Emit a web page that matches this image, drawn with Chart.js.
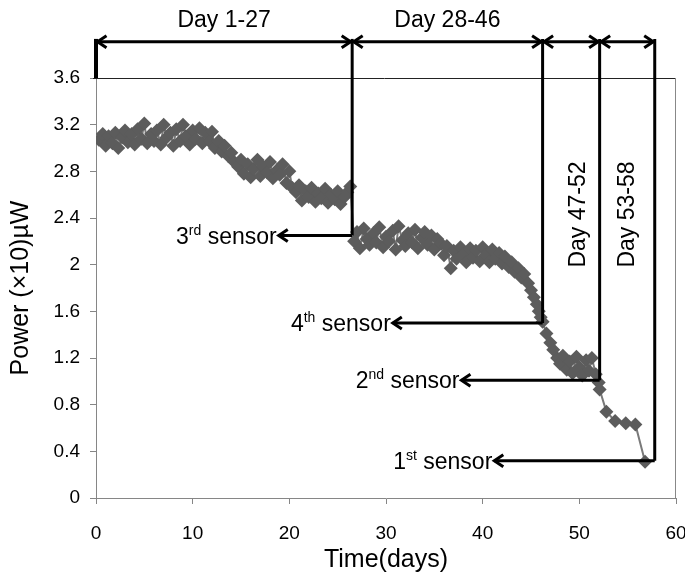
<!DOCTYPE html>
<html>
<head>
<meta charset="utf-8">
<script src="https://cdn.jsdelivr.net/npm/chart.js@4.4.0/dist/chart.umd.min.js"></script>
<style>
html,body{margin:0;padding:0;background:#fff;}
canvas{display:block;}
</style>
</head>
<body>
<canvas id="c" width="685" height="578"></canvas>
<script>
// ---- data ----
const days = [
  0.3,0.7,1.0,1.3,1.7,2.0,2.3,2.7,3.0,3.3,3.7,4.0,4.3,4.7,5.0,5.3,5.7,6.0,6.3,6.7,7.0,7.3,7.7,8.0,
  8.3,8.7,9.0,9.3,9.7,10.0,10.3,10.7,11.0,11.3,11.7,12.0,12.3,12.7,13.0,13.3,13.7,14.0,14.3,14.7,15.0,
  15.3,15.7,16.0,16.3,16.7,17.0,17.3,17.7,18.0,18.3,18.7,19.0,19.3,19.7,20.0,20.3,20.7,21.0,21.3,21.7,
  22.0,22.3,22.7,23.0,23.3,23.7,24.0,24.3,24.7,25.0,25.3,25.7,26.0,26.3,26.7,27.0,27.3,27.7,28.0,28.3,
  28.7,29.0,29.3,29.7,30.0,30.3,30.7,31.0,31.3,31.7,32.0,32.3,32.7,33.0,33.3,33.7,34.0,34.3,34.7,35.0,
  35.3,35.7,36.0,36.3,36.7,37.0,37.3,37.7,38.0,38.3,38.7,39.0,39.3,39.7,40.0,40.3,40.7,41.0,41.3,41.7,
  42.0,42.3,42.7,43.0,43.3,43.7,44.0,44.3,44.7,45.0,45.3,45.6,45.8,46.0,46.2,46.6,47.0,47.3,47.7,48.0,
  48.3,48.7,49.0,49.3,49.7,50.0,50.3,50.7,51.0,51.3,51.7,52.0,52.1,52.8,53.7,54.8,55.8,56.8
];
const power = [
  3.07,3.12,3.02,3.10,3.04,3.13,3.00,3.09,3.15,3.05,3.12,3.03,3.16,3.08,3.21,3.04,3.12,3.06,3.15,3.03,3.20,3.09,3.13,3.02,
  3.16,3.06,3.20,3.10,3.03,3.15,3.08,3.17,3.04,3.13,3.06,3.14,3.00,3.06,2.97,3.02,2.93,2.96,2.88,2.84,2.90,
  2.78,2.86,2.75,2.82,2.90,2.76,2.84,2.79,2.88,2.74,2.81,2.77,2.86,2.70,2.80,2.66,2.62,2.68,2.55,2.63,
  2.58,2.66,2.54,2.61,2.57,2.65,2.53,2.60,2.56,2.63,2.52,2.58,2.62,2.67,2.20,2.28,2.14,2.31,2.22,2.17,
  2.27,2.19,2.32,2.15,2.24,2.20,2.29,2.13,2.33,2.21,2.16,2.27,2.19,2.30,2.14,2.23,2.28,2.17,2.25,2.13,
  2.22,2.18,2.08,2.16,1.97,2.12,2.05,2.15,2.09,2.02,2.14,2.06,2.12,2.03,2.15,2.08,2.02,2.13,2.05,2.10,
  2.01,2.07,1.98,2.02,1.94,1.97,1.89,1.92,1.84,1.78,1.72,1.66,1.60,1.55,1.51,1.41,1.33,1.27,1.20,1.15,
  1.22,1.10,1.17,1.07,1.21,1.12,1.05,1.18,1.09,1.20,1.06,0.99,0.93,0.74,0.66,0.64,0.63,0.31
];
const xTicks = [0,10,20,30,40,50,60];
const yTicks = [0,0.4,0.8,1.2,1.6,2,2.4,2.8,3.2,3.6];

// annotation values (in data units)
const periodBounds = [0, 26.5, 46.2, 52.1, 57.8];
const periodLabels = ['Day 1-27','Day 28-46','Day 47-52','Day 53-58'];
const sensorLevels = [2.25, 1.5, 1.01, 0.32];
const sensorArrowEnds = [18.8, 30.6, 37.7, 41.1];
const sensorNums = ['3','4','2','1'];
const sensorSups = ['rd','th','nd','st'];

const points = days.map((d,i)=>({x:d, y:power[i]}));

const AXIS_FONT = "'Liberation Sans Narrow','Liberation Sans',Arial,sans-serif";
const ANN_FONT = "'Liberation Sans',Arial,sans-serif";

function line(ctx,x1,y1,x2,y2){ctx.beginPath();ctx.moveTo(x1,y1);ctx.lineTo(x2,y2);ctx.stroke();}
function head(ctx,x,y,dir){ // dir: -1 points left, 1 points right
  ctx.beginPath();
  ctx.moveTo(x-dir*9,y-6);ctx.lineTo(x,y);ctx.lineTo(x-dir*9,y+6);
  ctx.stroke();
}

const annot = {
  id:'annot',
  afterDraw(chart){
    const {ctx, chartArea, scales:{x,y}} = chart;
    const X = v=>x.getPixelForValue(v), Y = v=>y.getPixelForValue(v);
    ctx.save();
    // frame (top and right)
    ctx.strokeStyle='#222'; ctx.lineWidth=1;
    line(ctx, chartArea.left-3, Math.round(chartArea.top)+0.5, chartArea.right, Math.round(chartArea.top)+0.5);
    ctx.strokeStyle='#888';
    line(ctx, Math.round(chartArea.right)-0.5, chartArea.top, Math.round(chartArea.right)-0.5, chartArea.bottom);

    ctx.strokeStyle='#000'; ctx.lineWidth=3; ctx.lineJoin='miter';
    const topY = Y(3.91);
    const lineTop = Y(3.935);
    periodBounds.forEach((b,i)=>{
      const bottom = i===0 ? Y(3.6) : Y(sensorLevels[i-1]);
      ctx.lineWidth = i===0 ? 4 : 3;
      line(ctx, X(b), lineTop, X(b), bottom);
    });
    ctx.lineWidth=3;
    for(let i=0;i<periodBounds.length-1;i++){
      const a=X(periodBounds[i])+1.5, b=X(periodBounds[i+1])-1.5;
      line(ctx,a,topY,b,topY);
      head(ctx,a,topY,-1);
      head(ctx,b,topY,1);
    }
    // sensor arrows
    sensorLevels.forEach((lv,i)=>{
      const x0 = X(periodBounds[i+1]), x1 = X(sensorArrowEnds[i]), yy = Y(lv);
      line(ctx,x0,yy,x1+1,yy);
      head(ctx,x1+1,yy,-1);
      // label
      const big = "23px "+ANN_FONT, small = "14px "+ANN_FONT;
      ctx.font = big; const wNum = ctx.measureText(sensorNums[i]).width;
      const wSen = ctx.measureText(' sensor').width;
      ctx.font = small; const wSup = ctx.measureText(sensorSups[i]).width;
      const right = x1 - 1;
      const left = right - (wNum+wSup+wSen);
      const base = yy + 8;
      ctx.fillStyle='#000'; ctx.textBaseline='alphabetic'; ctx.textAlign='left';
      ctx.font = big; ctx.fillText(sensorNums[i], left, base);
      ctx.font = small; ctx.fillText(sensorSups[i], left+wNum, base-9);
      ctx.font = big; ctx.fillText(' sensor', left+wNum+wSup, base);
    });
    // period labels
    ctx.fillStyle='#000'; ctx.font="23px "+ANN_FONT; ctx.textAlign='center'; ctx.textBaseline='middle';
    for(let i=0;i<2;i++){
      const cx = (X(periodBounds[i])+X(periodBounds[i+1]))/2;
      ctx.fillText(periodLabels[i], cx, Y(4.095));
    }
    const rotX = [49.9, 55.0];
    for(let i=2;i<4;i++){
      ctx.save();
      ctx.translate(X(rotX[i-2]), Y(2.43));
      ctx.rotate(-Math.PI/2);
      ctx.fillText(periodLabels[i],0,0);
      ctx.restore();
    }
    ctx.restore();
  }
};

new Chart(document.getElementById('c'), {
  type:'scatter',
  data:{datasets:[{
    data: points,
    showLine:true,
    borderColor:'#7a7a7a',
    borderWidth:2,
    backgroundColor:'#5c5c5c',
    pointStyle:'rectRot',
    pointRadius:7,
    pointBorderWidth:0,
    pointBackgroundColor:'#5c5c5c',
    pointBorderColor:'#5c5c5c',
    tension:0
  }]},
  options:{
    responsive:false,
    devicePixelRatio:1,
    animation:false,
    layout:{padding:{top:78,right:9,left:0,bottom:0}},
    plugins:{legend:{display:false},tooltip:{enabled:false}},
    scales:{
      x:{
        type:'linear', min:0, max:60,
        afterBuildTicks(s){ s.ticks = xTicks.map(v=>({value:v})); },
        afterFit(s){ s.height = 80; s.paddingLeft=0; s.paddingRight=0; },
        grid:{display:true, drawOnChartArea:false, drawTicks:true, tickLength:6, color:'#868686'},
        border:{display:true, color:'#868686', width:1},
        ticks:{padding:18, color:'#000', font:{family:AXIS_FONT, size:19}, maxRotation:0},
        title:{display:true, text:'Time(days)', color:'#000', font:{family:AXIS_FONT, size:25}, padding:{top:0,bottom:3}}
      },
      y:{
        type:'linear', min:0, max:3.6,
        afterBuildTicks(s){ s.ticks = yTicks.map(v=>({value:v})); },
        afterFit(s){ s.width = 96; s.paddingTop=0; s.paddingBottom=0; },
        grid:{display:true, drawOnChartArea:false, drawTicks:true, tickLength:6, color:'#868686'},
        border:{display:true, color:'#868686', width:1},
        ticks:{padding:10, color:'#000', font:{family:AXIS_FONT, size:19},
          callback:(v)=>String(parseFloat(Number(v).toFixed(2)))},
        title:{display:true, text:'Power (×10)µW', color:'#000', font:{family:AXIS_FONT, size:25}, padding:{top:6,bottom:0}}
      }
    }
  },
  plugins:[annot]
});
</script>
</body>
</html>
